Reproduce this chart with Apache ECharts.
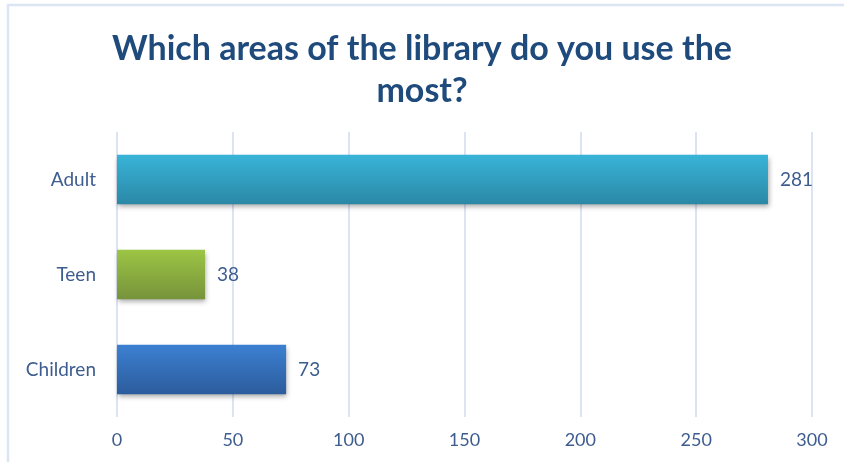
<!DOCTYPE html>
<html><head><meta charset="utf-8">
<script src="https://cdn.jsdelivr.net/npm/echarts@6/dist/echarts.min.js"></script>
<style>html,body{margin:0;padding:0;background:#fff}#c{width:844px;height:462px}</style>
</head><body><div id="c"></div>
<script>
const titleText = 'Which areas of the library do you use the\nmost?';
const categories = ['Children', 'Teen', 'Adult'];
const values = [73, 38, 281];
const xTicks = [0, 50, 100, 150, 200, 250, 300];
const barTop = ['#3c80d2', '#9cc544', '#38b4d8'];
const barBottom = ['#2c5c9c', '#77933b', '#2b88a6'];

const chart = echarts.init(document.getElementById('c'));
chart.setOption({
  animation: false,
  backgroundColor: '#ffffff',
  graphic: [{
    type: 'rect', shape: { x: 8, y: 5, width: 900, height: 500 },
    style: { fill: 'none', stroke: '#dbe5f3', lineWidth: 2.5 }, z: 0
  }],
  title: {
    text: titleText, left: 'center', top: 23,
    textStyle: { fontFamily: 'Lato', fontWeight: 'bold', fontSize: 34, color: '#1f4a7c', lineHeight: 42 }
  },
  grid: { left: 117, right: 32, top: 132, bottom: 45 },
  xAxis: {
    type: 'value', min: xTicks[0], max: xTicks[xTicks.length - 1], interval: 50,
    axisLine: { show: false }, axisTick: { show: false },
    splitLine: { lineStyle: { color: '#dae4f2', width: 2 } },
    axisLabel: { color: '#3d5d8f', fontFamily: 'Lato', fontSize: 18, margin: 14 }
  },
  yAxis: {
    type: 'category', data: categories,
    axisLine: { show: false }, axisTick: { show: false },
    axisLabel: { color: '#3d5d8f', fontFamily: 'Lato', fontSize: 19, margin: 21 }
  },
  series: [{
    type: 'bar', barWidth: '52%',
    data: values.map((v, i) => ({
      value: v,
      itemStyle: {
        color: new echarts.graphic.LinearGradient(0, 0, 0, 1, [
          { offset: 0, color: barTop[i] }, { offset: 1, color: barBottom[i] }
        ]),
        shadowColor: 'rgba(0,0,0,0.35)', shadowBlur: 5, shadowOffsetX: 1, shadowOffsetY: 3
      }
    })),
    label: { show: true, position: 'right', distance: 12, color: '#3d5d8f', fontFamily: 'Lato', fontSize: 19 }
  }]
});
</script></body></html>
